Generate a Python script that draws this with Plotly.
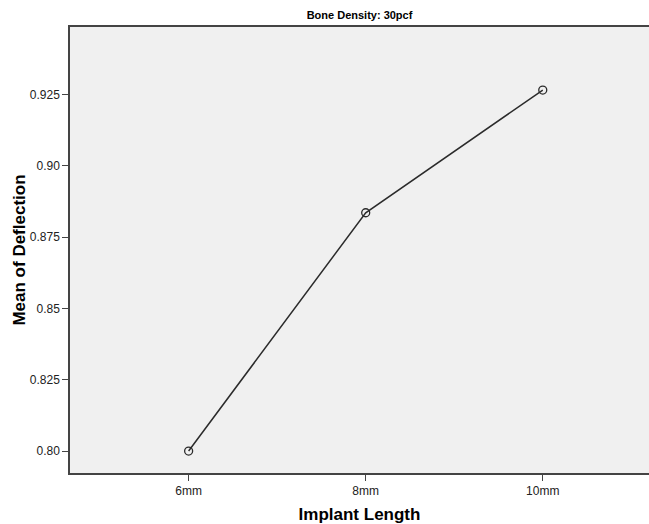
import plotly.graph_objects as go

categories = ["6mm", "8mm", "10mm"]
means = [0.800, 0.8835, 0.9265]
ytick_vals = [0.80, 0.825, 0.85, 0.875, 0.90, 0.925]
ytick_text = ["0.80", "0.825", "0.85", "0.875", "0.90", "0.925"]

FONT = "Liberation Sans Narrow, Arial Narrow, Liberation Sans, Arial, sans-serif"

fig = go.Figure()
fig.add_trace(go.Scatter(
    x=list(range(len(categories))), y=means, mode="lines+markers",
    line=dict(color="#2b2b2b", width=1.5),
    marker=dict(symbol="circle-open", size=8, color="#2b2b2b", line=dict(width=1.3)),
    showlegend=False, hoverinfo="skip",
))

fig.update_layout(
    width=649, height=524,
    margin=dict(l=70, r=0, t=27, b=51),
    paper_bgcolor="white", plot_bgcolor="#f0f0f0",
    title=dict(text="<b>Bone Density: 30pcf</b>", x=0.5, xref="paper", xanchor="center",
               y=1 - 15/524, yanchor="middle", font=dict(family=FONT, size=11, color="black")),
    font=dict(family=FONT, color="#222"),
)
fig.update_xaxes(
    range=[-0.67, 2.6], tickvals=list(range(len(categories))), ticktext=categories,
    showgrid=False, zeroline=False, showline=True, linecolor="#444", linewidth=1.5,
    mirror=True, ticks="outside", ticklen=6, tickcolor="#444",
    tickfont=dict(family=FONT, size=12, color="#222"),
    title=dict(text="<b>Implant Length</b>", font=dict(family=FONT, size=17, color="black"), standoff=11),
)
fig.update_yaxes(
    range=[0.7923, 0.9486], tickvals=ytick_vals, ticktext=ytick_text,
    showgrid=False, zeroline=False, showline=True, linecolor="#444", linewidth=1.5,
    ticks="outside", ticklen=6, tickcolor="#444",
    tickfont=dict(family=FONT, size=12, color="#222"),
    title=dict(text="<b>Mean of Deflection</b>", font=dict(family=FONT, size=17, color="black"), standoff=0),
)

fig.write_html("out.html", config={"displayModeBar": False},
               post_script="document.body.style.margin='0';document.body.style.overflow='hidden';")
